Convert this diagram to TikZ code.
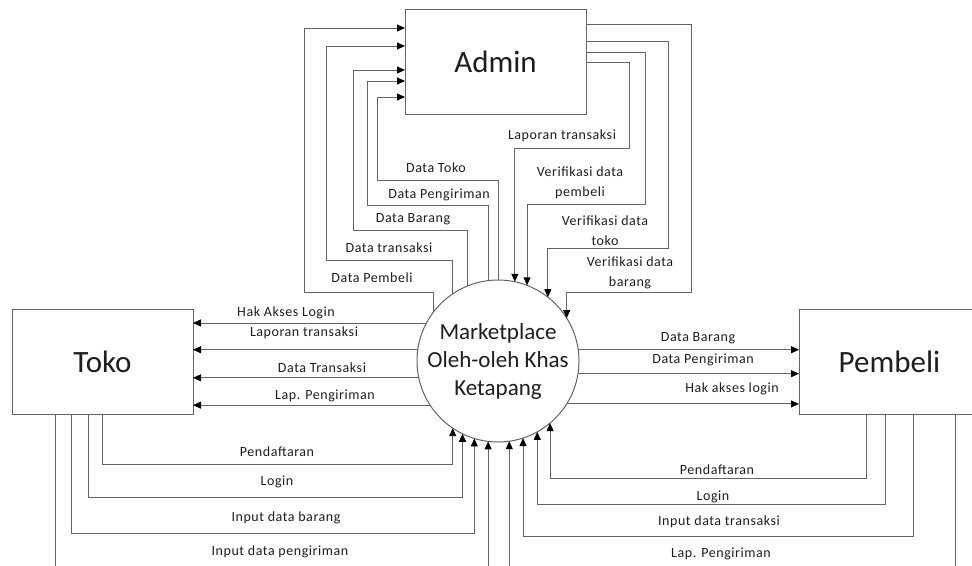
\documentclass[tikz,border=0pt]{standalone}
\usepackage{fontspec}
\setmainfont{Carlito}
\newfontfamily\lblfont[LetterSpace=4]{Carlito}
\usetikzlibrary{arrows.meta}
\definecolor{linec}{RGB}{100,100,100}
\definecolor{txtc}{RGB}{30,30,30}
\begin{document}
\begin{tikzpicture}[x=1pt,y=-1pt,
  ent/.style={draw=linec, line width=1pt, fill=white, minimum width=181pt, minimum height=105pt, inner sep=0pt, outer sep=0pt, font=\fontsize{31}{36}\selectfont, text=txtc},
  proc/.style={circle, draw=linec, line width=1pt, fill=white, minimum size=162pt, inner sep=0pt, outer sep=0pt, align=center, font=\fontsize{23}{28}\selectfont, text=txtc},
  flow/.style={draw=linec, line width=0.9pt, -{Triangle[length=8pt,width=7pt,color=black]}},
  lbl/.style={font=\lblfont\fontsize{14}{20}\selectfont, text=txtc, inner sep=0pt, align=center}
]
\useasboundingbox (0,0) rectangle (972,565);
\clip (0,0) rectangle (972,565);
\fill[white] (0,0) rectangle (972,565);

% entities and process
\node[ent] (admin) at (495.5,61.5) {Admin};
\node[ent] (toko) at (102.5,361.5) {Toko};
\node[ent] (pembeli) at (889.5,361.5) {Pembeli};
\node[proc] (c) at (498,361) {Marketplace\\Oleh-oleh Khas\\Ketapang};

% process -> Admin (left side)
\draw[flow] (c.143.4) |- (304,292) |- ([yshift=-19pt]admin.north west);
\draw[flow] (c.124.6) |- (326,260) |- ([yshift=-37pt]admin.north west);
\draw[flow] (c.112.5) |- (353,230) |- ([yshift=-61pt]admin.north west);
\draw[flow] (c.97.8)  |- (367,205) |- ([yshift=-72pt]admin.north west);
\draw[flow] (c.90.7)  |- (377,180) |- ([yshift=-88pt]admin.north west);

% Admin -> process (right side)
\draw[flow] ([yshift=-53pt]admin.north east) -| (629,148) -| (c.78.6);
\draw[flow] ([yshift=-43pt]admin.north east) -| (645,204) -| (c.69.0);
\draw[flow] ([yshift=-32pt]admin.north east) -| (668,248) -| (c.52.8);
\draw[flow] ([yshift=-15pt]admin.north east) -| (691,292) -| (c.32.9);

% process -> Toko
\draw[flow] (c.152.0) -- (c.152.0 -| toko.east);
\draw[flow] (c.172.9) -- (c.172.9 -| toko.east);
\draw[flow] (c.192.1) -- (c.192.1 -| toko.east);
\draw[flow] (c.213.75) -- (c.213.75 -| toko.east);

% process -> Pembeli
\draw[flow] (c.8.5) -- (c.8.5 -| pembeli.west);
\draw[flow] (c.-9.2) -- (c.-9.2 -| pembeli.west);
\draw[flow] (c.-32.1) -- (c.-32.1 -| pembeli.west);

% Toko -> process
\draw[flow] ([xshift=90pt]toko.south west) -- ++(0,50) -| (c.-124.6);
\draw[flow] ([xshift=76pt]toko.south west) -- ++(0,83) -| (c.-116.4);
\draw[flow] ([xshift=59pt]toko.south west) -- ++(0,119) -| (c.-107.2);
\draw[flow] ([xshift=43pt]toko.south west) -- ++(0,170) -| (c.-97.1);

% Pembeli -> process
\draw[flow] ([xshift=67pt]pembeli.south west) -- ++(0,64) -| (c.-50.1);
\draw[flow] ([xshift=86pt]pembeli.south west) -- ++(0,90) -| (c.-61.2);
\draw[flow] ([xshift=114pt]pembeli.south west) -- ++(0,122) -| (c.-72.0);
\draw[flow] ([xshift=156pt]pembeli.south west) -- ++(0,170) -| (c.-82.2);

% labels: process -> Admin
\node[lbl] (l1) at (436,168) {Data Toko};
\node[lbl] (l2) at (439,195) {Data Pengiriman};
\node[lbl] (l3) at (413,219) {Data Barang};
\node[lbl] (l4) at (389,248) {Data transaksi};
\node[lbl] (l5) at (372,278) {Data Pembeli};
% labels: Admin -> process
\node[lbl] (l6) at (562,136) {Laporan transaksi};
\node[lbl] (l7) at (580,183) {Verifikasi data\\pembeli};
\node[lbl] (l8) at (605,231) {Verifikasi data\\toko};
\node[lbl] (l9) at (630,273) {Verifikasi data\\barang};
% labels: process -> Toko
\node[lbl] (l10) at (286,313) {Hak Akses Login};
\node[lbl] (l11) at (304,333) {Laporan transaksi};
\node[lbl] (l12) at (322,368) {Data Transaksi};
\node[lbl] (l13) at (325,396) {Lap. Pengiriman};
% labels: process -> Pembeli
\node[lbl] (l14) at (698,338) {Data Barang};
\node[lbl] (l15) at (703,360) {Data Pengiriman};
\node[lbl] (l16) at (732,389) {Hak akses login};
% labels: Toko -> process
\node[lbl] (l17) at (277,452) {Pendaftaran};
\node[lbl] (l18) at (277,482) {Login};
\node[lbl] (l19) at (286,518) {Input data barang};
\node[lbl] (l20) at (280,552) {Input data pengiriman};
% labels: Pembeli -> process
\node[lbl] (l21) at (717,470) {Pendaftaran};
\node[lbl] (l22) at (713,497) {Login};
\node[lbl] (l23) at (719,522) {Input data transaksi};
\node[lbl] (l24) at (721,554) {Lap. Pengiriman};
\end{tikzpicture}
\end{document}
